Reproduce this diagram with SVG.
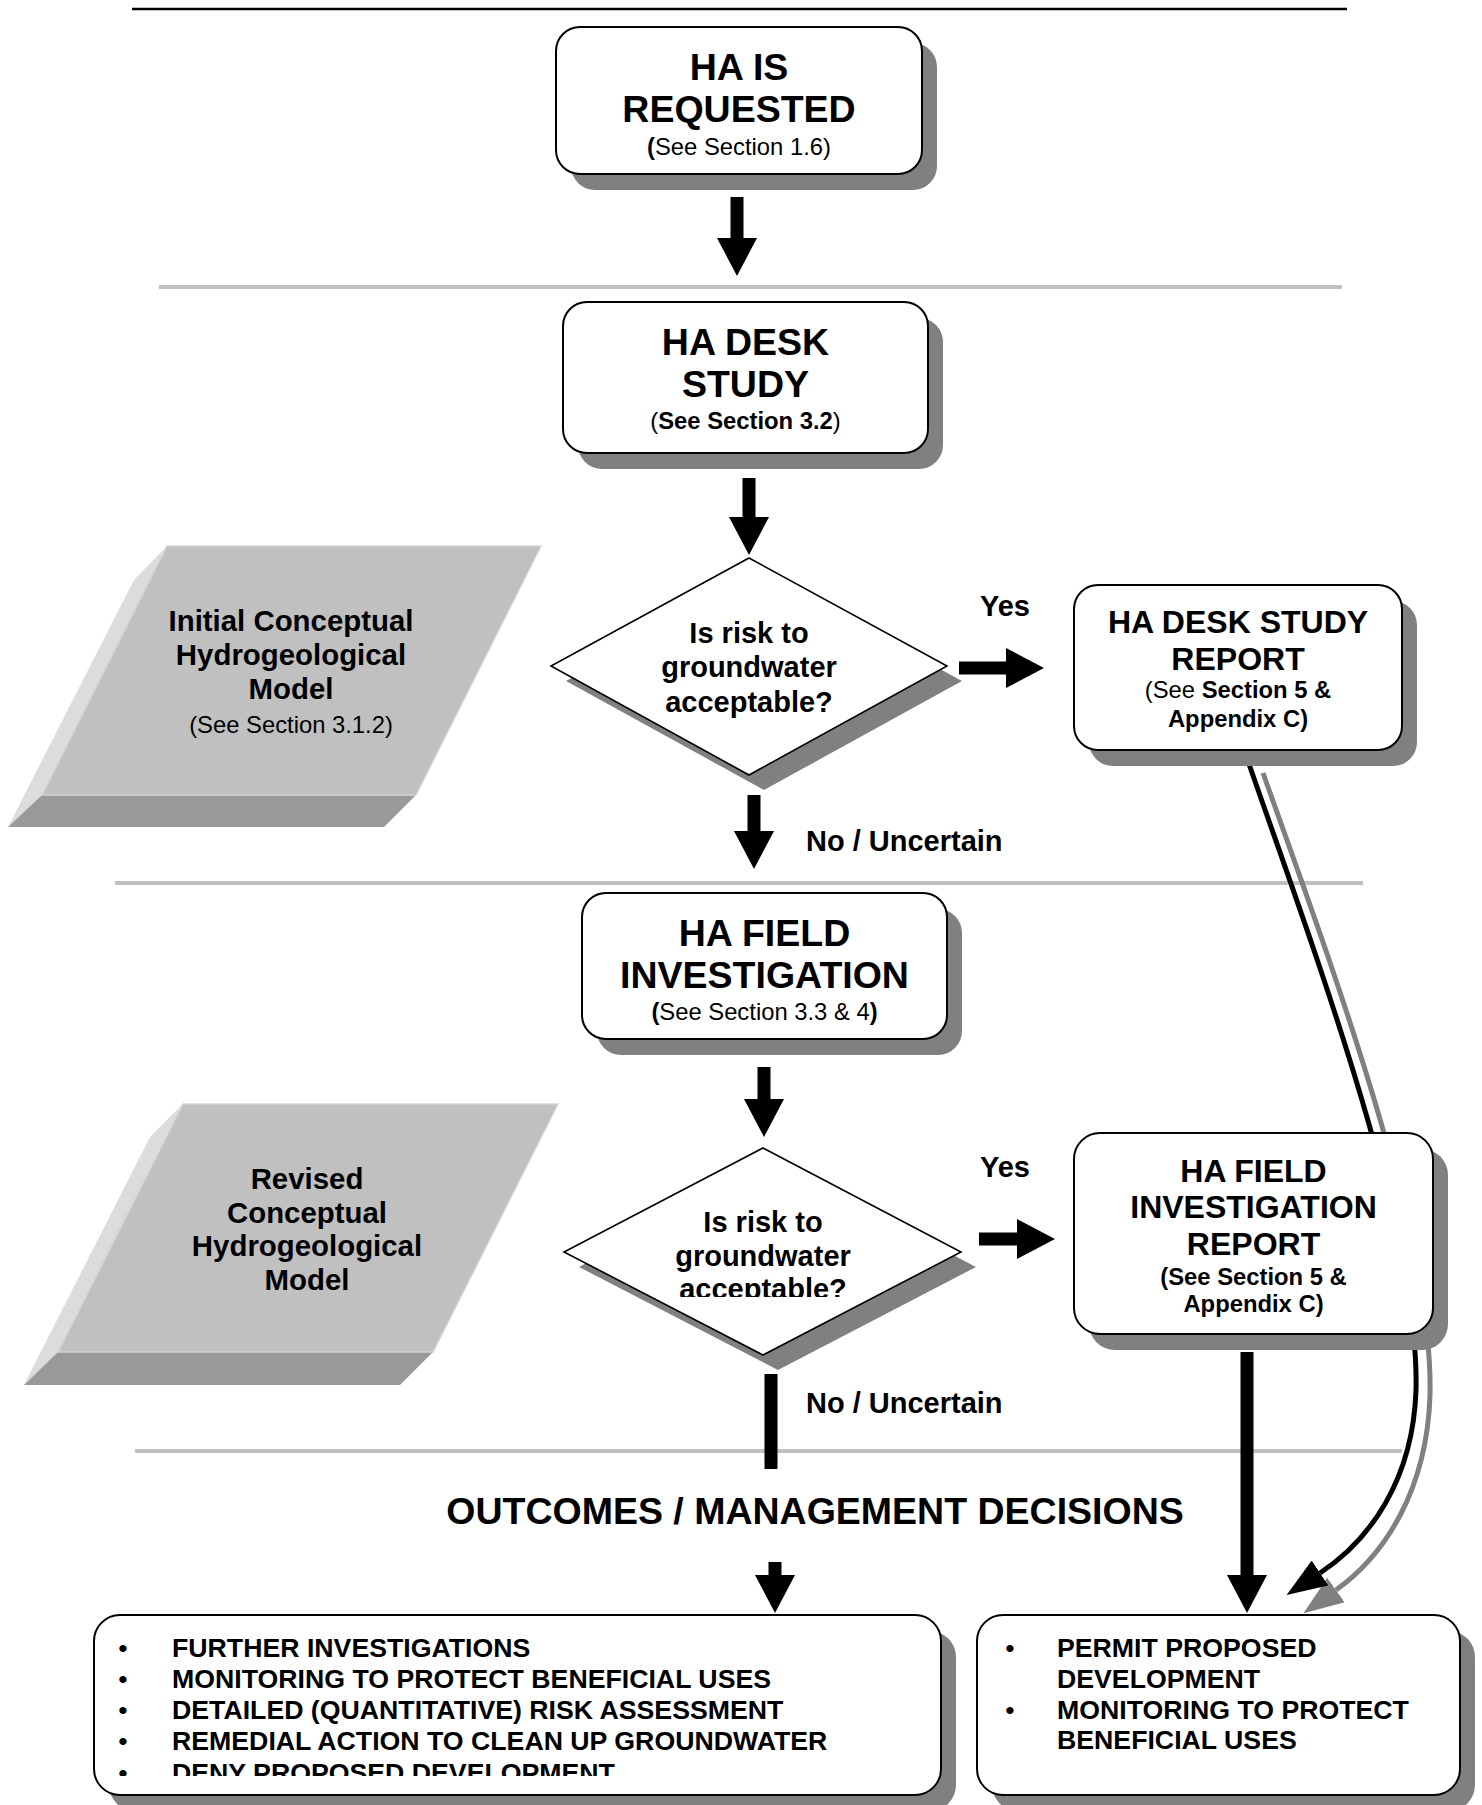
<svg xmlns="http://www.w3.org/2000/svg" width="1482" height="1805" viewBox="0 0 1482 1805">
<style>
text{font-family:"Liberation Sans",Arial,sans-serif;fill:#000;text-anchor:middle}
.t1{font-size:37.5px;font-weight:bold}
.t2{font-size:32px;font-weight:bold}
.sub{font-size:23.8px}
.b{font-weight:bold}
.dq{font-size:29px;font-weight:bold}
.lbl{font-size:29px;font-weight:bold;text-anchor:start}
.mdl{font-size:29.4px;font-weight:bold}
.li{font-size:26.7px;font-weight:bold;text-anchor:start}
.bul{font-size:26.7px;text-anchor:middle}
.box{fill:#fff;stroke:#000;stroke-width:2}
.shd{fill:#808080}
.dia{fill:#fff;stroke:#000;stroke-width:1.6}
.sep{stroke:#c0c0c0;stroke-width:4}
.arr{stroke:#000;stroke-width:13;fill:none}
.pf{fill:#c0c0c0;stroke:#d4d4d4;stroke-width:1.5}
.pl{fill:#dcdcdc}
.pb{fill:#999}
</style>
<defs>
<marker id="ah" viewBox="0 0 38 40" refX="0" refY="20" markerWidth="38" markerHeight="40" markerUnits="userSpaceOnUse" orient="auto"><path d="M0,0 L38,20 L0,40 z" fill="#000"/></marker>
<marker id="ahc" viewBox="0 0 40 30" refX="0" refY="15" markerWidth="40" markerHeight="30" markerUnits="userSpaceOnUse" orient="auto"><path d="M0,0 L40,15 L0,30 z" fill="#000"/></marker>
<marker id="ahg" viewBox="0 0 40 30" refX="0" refY="15" markerWidth="40" markerHeight="30" markerUnits="userSpaceOnUse" orient="auto"><path d="M0,0 L40,15 L0,30 z" fill="#808080"/></marker>
<clipPath id="clipD2"><rect x="540" y="1140" width="450" height="157"/></clipPath>
<clipPath id="clipL"><rect x="90" y="1610" width="860" height="166"/></clipPath>
</defs>

<g id="separators">
<line x1="132" y1="9" x2="1347" y2="9" stroke="#000" stroke-width="2.5"/>
<line class="sep" x1="159" y1="287" x2="1342" y2="287"/>
<line class="sep" x1="115" y1="883" x2="1363" y2="883"/>
<line class="sep" x1="135" y1="1451" x2="1402" y2="1451"/>
</g>

<g id="connectors">
<line class="arr" x1="737" y1="197" x2="737" y2="238" marker-end="url(#ah)"/>
<line class="arr" x1="749" y1="478" x2="749" y2="517" marker-end="url(#ah)"/>
<line class="arr" x1="754" y1="795" x2="754" y2="831" marker-end="url(#ah)"/>
<line class="arr" x1="764" y1="1067" x2="764" y2="1099" marker-end="url(#ah)"/>
<line class="arr" x1="959" y1="668" x2="1006" y2="668" marker-end="url(#ah)"/>
<line class="arr" x1="979" y1="1239" x2="1017" y2="1239" marker-end="url(#ah)"/>
<line class="arr" x1="771" y1="1374" x2="771" y2="1469"/>
<line class="arr" x1="775" y1="1562" x2="775" y2="1575" marker-end="url(#ah)"/>
<line class="arr" x1="1247" y1="1352" x2="1247" y2="1575" marker-end="url(#ah)"/>
<path d="M1263,773 C1324,945 1434,1235 1430,1395 C1427,1490 1385,1555 1336,1590" fill="none" stroke="#808080" stroke-width="5" marker-end="url(#ahg)"/>
<path d="M1249,764 C1310,940 1420,1230 1416,1390 C1413,1480 1370,1540 1320,1573" fill="none" stroke="#000" stroke-width="5" marker-end="url(#ahc)"/>
<text class="lbl" x="980" y="616">Yes</text>
<text class="lbl" x="806" y="851">No / Uncertain</text>
<text class="lbl" x="980" y="1177">Yes</text>
<text class="lbl" x="806" y="1413">No / Uncertain</text>
</g>

<g id="n-requested">
<rect class="shd" x="571" y="43" width="366" height="147" rx="24"/>
<rect class="box" x="556" y="27" width="366" height="147" rx="24"/>
<text class="t1" x="739" y="80">HA IS</text>
<text class="t1" x="739" y="122">REQUESTED</text>
<text class="sub" x="739" y="155"><tspan class="b">(</tspan>See Section 1.6)</text>
</g>

<g id="n-desk">
<rect class="shd" x="578" y="318" width="365" height="151" rx="24"/>
<rect class="box" x="563" y="302" width="365" height="151" rx="24"/>
<text class="t1" x="745.5" y="355">HA DESK</text>
<text class="t1" x="745.5" y="397">STUDY</text>
<text class="sub" x="745.5" y="429">(<tspan class="b">See Section 3.2</tspan>)</text>
</g>

<g id="n-model1">
<polygon class="pl" points="167,546 134,580 8,827 42,795"/>
<polygon class="pb" points="42,795 416,795 384,827 8,827"/>
<polygon class="pf" points="167,546 541,546 416,795 42,795"/>
<text class="mdl" x="291" y="631">Initial Conceptual</text>
<text class="mdl" x="291" y="665">Hydrogeological</text>
<text class="mdl" x="291" y="699">Model</text>
<text class="sub" x="291" y="733">(See Section 3.1.2)</text>
</g>

<g id="n-decision1">
<polygon class="shd" points="764,573 962,681 764,790 566,681"/>
<polygon class="dia" points="749,558 947,666 749,775 551,666"/>
<text class="dq" x="749" y="643">Is risk to</text>
<text class="dq" x="749" y="677">groundwater</text>
<text class="dq" x="749" y="712">acceptable?</text>
</g>

<g id="n-deskreport">
<rect class="shd" x="1089" y="601" width="328" height="165" rx="24"/>
<rect class="box" x="1074" y="585" width="328" height="165" rx="24"/>
<text class="t2" x="1238" y="633">HA DESK STUDY</text>
<text class="t2" x="1238" y="670">REPORT</text>
<text class="sub" x="1238" y="698">(See <tspan class="b">Section 5 &amp;</tspan></text>
<text class="sub b" x="1238" y="727">Appendix C)</text>
</g>

<g id="n-field">
<rect class="shd" x="597" y="909" width="365" height="146" rx="24"/>
<rect class="box" x="582" y="893" width="365" height="146" rx="24"/>
<text class="t1" x="764.5" y="946">HA FIELD</text>
<text class="t1" x="764.5" y="988">INVESTIGATION</text>
<text class="sub" x="764.5" y="1020"><tspan class="b">(</tspan>See Section 3.3 &amp; 4<tspan class="b">)</tspan></text>
</g>

<g id="n-model2">
<polygon class="pl" points="183,1104 150,1137 24,1385 58,1352"/>
<polygon class="pb" points="58,1352 433,1352 400,1385 24,1385"/>
<polygon class="pf" points="183,1104 558,1104 433,1352 58,1352"/>
<text class="mdl" x="307" y="1189">Revised</text>
<text class="mdl" x="307" y="1223">Conceptual</text>
<text class="mdl" x="307" y="1256">Hydrogeological</text>
<text class="mdl" x="307" y="1290">Model</text>
</g>

<g id="n-decision2">
<polygon class="shd" points="778,1163 976,1267 778,1370 579,1267"/>
<polygon class="dia" points="763,1148 961,1252 763,1355 564,1252"/>
<g clip-path="url(#clipD2)">
<text class="dq" x="763" y="1232">Is risk to</text>
<text class="dq" x="763" y="1266">groundwater</text>
<text class="dq" x="763" y="1299">acceptable?</text>
</g>
</g>

<g id="n-fieldreport">
<rect class="shd" x="1089" y="1149" width="359" height="201" rx="26"/>
<rect class="box" x="1074" y="1133" width="359" height="201" rx="26"/>
<text class="t2" x="1253.5" y="1182">HA FIELD</text>
<text class="t2" x="1253.5" y="1218">INVESTIGATION</text>
<text class="t2" x="1253.5" y="1255">REPORT</text>
<text class="sub b" x="1253.5" y="1285">(See Section 5 &amp;</text>
<text class="sub b" x="1253.5" y="1312">Appendix C)</text>
</g>

<g id="heading">
<text class="t1" x="815" y="1524">OUTCOMES / MANAGEMENT DECISIONS</text>
</g>

<g id="n-outcomes-left">
<rect class="shd" x="109" y="1631" width="847" height="180" rx="26"/>
<rect class="box" x="94" y="1615" width="847" height="180" rx="26"/>
<g clip-path="url(#clipL)">
<text class="bul" x="123" y="1657">•</text><text class="li" x="172" y="1657">FURTHER INVESTIGATIONS</text>
<text class="bul" x="123" y="1688">•</text><text class="li" x="172" y="1688">MONITORING TO PROTECT BENEFICIAL USES</text>
<text class="bul" x="123" y="1719">•</text><text class="li" x="172" y="1719">DETAILED (QUANTITATIVE) RISK ASSESSMENT</text>
<text class="bul" x="123" y="1750">•</text><text class="li" x="172" y="1750">REMEDIAL ACTION TO CLEAN UP GROUNDWATER</text>
<text class="bul" x="123" y="1782">•</text><text class="li" x="172" y="1782">DENY PROPOSED DEVELOPMENT</text>
</g>
</g>

<g id="n-outcomes-right">
<rect class="shd" x="992" y="1631" width="483" height="180" rx="26"/>
<rect class="box" x="977" y="1615" width="483" height="180" rx="26"/>
<text class="bul" x="1010" y="1657">•</text><text class="li" x="1057" y="1657">PERMIT PROPOSED</text>
<text class="li" x="1057" y="1688">DEVELOPMENT</text>
<text class="bul" x="1010" y="1719">•</text><text class="li" x="1057" y="1719">MONITORING TO PROTECT</text>
<text class="li" x="1057" y="1749">BENEFICIAL USES</text>
</g>
</svg>
